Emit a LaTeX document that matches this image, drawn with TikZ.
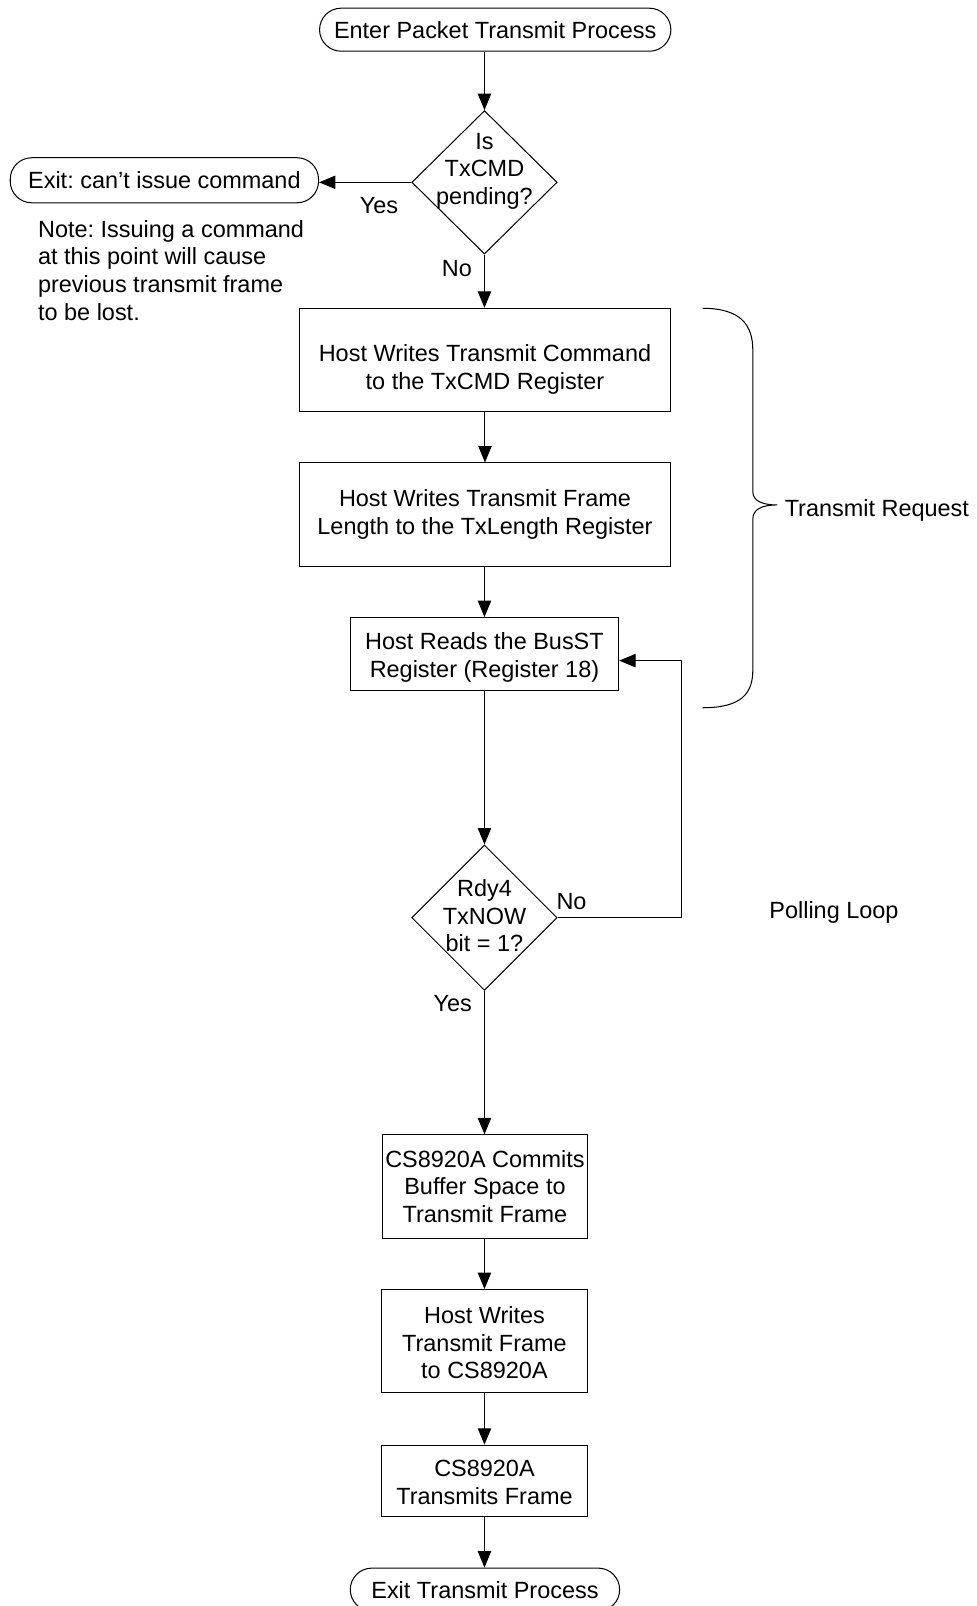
\documentclass[tikz,border=0pt]{standalone}
\usepackage{fontspec}
\setmainfont{Liberation Sans}
\frenchspacing
\usetikzlibrary{shapes.geometric,arrows.meta}
\tikzset{
  base/.style={font=\fontsize{22.9}{27}\selectfont, inner sep=0pt},
  box/.style={base, draw, rectangle, align=center, line width=1pt},
  term/.style={base, draw, rectangle, rounded corners=21pt, align=center, line width=1pt},
  dia/.style={draw, diamond, inner sep=0pt, line width=1pt},
  lbl/.style={base},
  arr/.style={-{Triangle[length=16pt,width=13pt]}, line width=1pt},
  brace/.style={line width=1pt},
}
\begin{document}
\begin{tikzpicture}[x=1pt, y=-1pt]
\useasboundingbox (0,0) rectangle (953,1568);
% nodes
\node[term, minimum width=343pt, minimum height=42pt] (start) at (483.5,29) {Enter Packet Transmit Process};
\node[dia, minimum width=142pt, minimum height=140pt] (d1) at (473,178) {};
\node[lbl, align=center] (d1t) at (473,167) {Is\\TxCMD\\pending?};
\node[term, minimum width=301pt, minimum height=44pt] (exit1) at (160.5,176) {Exit: can’t issue command};
\node[lbl, align=left, anchor=west] (note) at (37,264) {Note: Issuing a command\\at this point will cause\\previous transmit frame\\to be lost.};
\node[box, minimum width=363pt, minimum height=101pt] (b1) at (473.5,351.5) {};
\node[lbl, align=center] (b1t) at (473.5,361) {Host Writes Transmit Command\\to the TxCMD Register};
\node[box, minimum width=363pt, minimum height=101pt] (b2) at (473.5,502.5) {Host Writes Transmit Frame\\Length to the TxLength Register};
\node[box, minimum width=262pt, minimum height=71pt] (b3) at (473,638.5) {};
\node[lbl, align=center] (b3t) at (473,642) {Host Reads the BusST\\Register (Register 18)};
\node[dia, minimum width=142pt, minimum height=142pt] (d2) at (473,896) {};
\node[lbl, align=center] (d2t) at (473,894) {Rdy4\\TxNOW\\bit = 1?};
\node[box, minimum width=201pt, minimum height=101pt] (b4) at (473.5,1158.5) {CS8920A Commits\\Buffer Space to\\Transmit Frame};
\node[box, minimum width=202pt, minimum height=101pt] (b5) at (473,1309.5) {};
\node[lbl, align=center] (b5t) at (473,1311) {Host Writes\\Transmit Frame\\to CS8920A};
\node[box, minimum width=202pt, minimum height=70pt] (b6) at (473,1446) {};
\node[lbl, align=center] (b6t) at (473,1447.5) {CS8920A\\Transmits Frame};
\node[term, minimum width=263pt, minimum height=42pt] (end) at (473.5,1552) {Exit Transmit Process};
% labels
\node[lbl] (yes1) at (370,201) {Yes};
\node[lbl] (no1) at (446,262) {No};
\node[lbl] (no2) at (558,880) {No};
\node[lbl] (yes2) at (442,980) {Yes};
\node[lbl, anchor=west] (treq) at (766,498) {Transmit Request};
\node[lbl, anchor=west] (poll) at (751,891) {Polling Loop};
% connectors
\draw[arr] (start.south -| d1.north) -- (d1.north);
\draw[arr] (d1.west) -- (d1.west -| exit1.east);
\draw[arr] (d1.south) -- (d1.south |- b1.north);
\draw[arr] (b1.south) -- (b2.north);
\draw[arr] (b2.south -| b3.north) -- (b3.north);
\draw[arr] (b3.south) -- (d2.north);
\coordinate (lc) at (665,645);
\draw[arr] (d2.east) -- (d2.east -| lc) -- (lc) -- (lc -| b3.east);
\draw[arr] (d2.south) -- (d2.south |- b4.north);
\draw[arr] (b4.south -| b5.north) -- (b5.north);
\draw[arr] (b5.south) -- (b6.north);
\draw[arr] (b6.south) -- (b6.south |- end.north);
% brace
\draw[brace] (686,301) .. controls (724,301) and (735,318) .. (735,342)
  -- (735,480) .. controls (735,489) and (744,493) .. (759,493)
  .. controls (744,493) and (735,497) .. (735,507)
  -- (735,654) .. controls (735,677) and (724,691) .. (686,691);
\end{tikzpicture}
\end{document}
